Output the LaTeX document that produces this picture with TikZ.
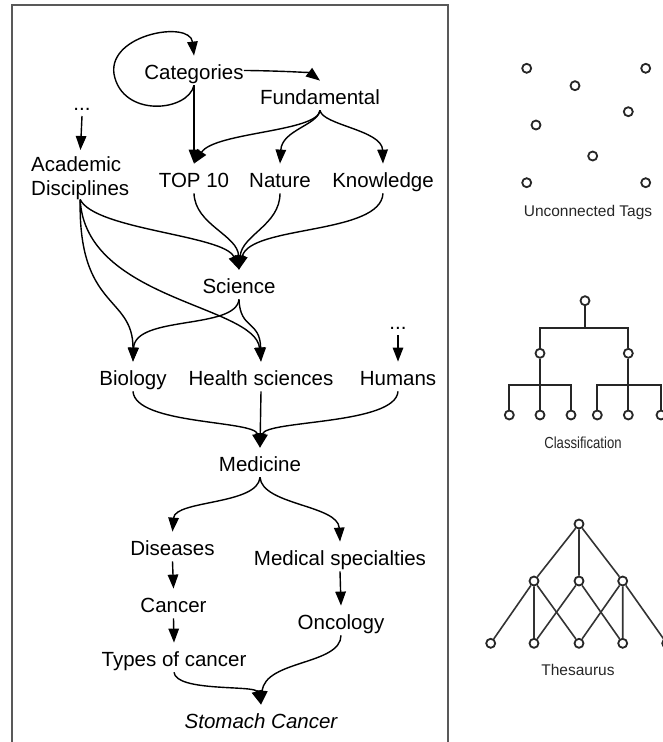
\documentclass[tikz,border=0pt]{standalone}
\usepackage{fontspec}
\setmainfont{Liberation Sans}
\usetikzlibrary{arrows.meta}
\begin{document}
\begin{tikzpicture}[x=1pt,y=-1pt,
  lbl/.style={font=\fontsize{20.5}{24}\selectfont, inner xsep=0pt, inner ysep=1.5pt, text height=22pt, text depth=4.3pt, anchor=base},
  conn/.style={line width=1.4pt, -{Triangle[length=14pt,width=10.5pt]}},
  tagnode/.style={circle, draw=black!85, line width=1.8pt, fill=white, minimum size=9pt, inner sep=0pt},
  cline/.style={line width=2.2pt, draw=black!85},
  tline/.style={line width=1.6pt, draw=black!80},
  taglabel/.style={font=\fontsize{15.5}{18}\selectfont, anchor=base, inner sep=0pt, text=black!85}]
\useasboundingbox (0,0) rectangle (663,742);
\clip (0,0) rectangle (663,742);
% frame
\draw[line width=1.6pt, black!65] (12,5) rectangle (448,760);
% main graph nodes
\node[lbl] (cat) at (194,79.3) {Categories};
\node[lbl] (fund) at (320,104.3) {Fundamental};
\node[lbl] (dotsA) at (82,110) {...};
\node[font=\fontsize{20.5}{24}\selectfont, align=left, inner sep=0pt, anchor=north west] (acad) at (31,156) {Academic\\Disciplines};
\node[lbl] (top) at (194,187.3) {TOP 10};
\node[lbl] (nat) at (280,187.3) {Nature};
\node[lbl] (know) at (383,187.3) {Knowledge};
\node[lbl] (sci) at (239,293.3) {Science};
\node[lbl] (bio) at (133,385.3) {Biology};
\node[lbl] (hs) at (261,385.3) {Health sciences};
\node[lbl] (hum) at (398,385.3) {Humans};
\node[lbl] (dotsB) at (398,329) {...};
\node[lbl] (med) at (260,471.3) {Medicine};
\node[lbl] (dis) at (172.5,555.3) {Diseases};
\node[lbl] (ms) at (340,565.3) {Medical specialties};
\node[lbl] (can) at (173.5,612.3) {Cancer};
\node[lbl] (onc) at (341,629.3) {Oncology};
\node[lbl] (typ) at (174,666.3) {Types of cancer};
\node[lbl, font=\fontsize{20.5}{24}\selectfont\itshape] (sto) at (261,728.3) {Stomach Cancer};
% main graph edges
\draw[conn] (cat.south) .. controls (188,112) and (122,118) .. (114,74) .. controls (108,34) and (190,20) .. (cat.north);
\draw[conn] (cat.east) .. controls (290,71) and (310,73) .. (fund.north);
\draw[conn] (cat.south) -- (top.north);
\draw[conn] (fund.south) .. controls (318,132) and (215,132) .. (top.north);
\draw[conn] (fund.south) .. controls (318,125) and (282,130) .. (nat.north);
\draw[conn] (fund.south) .. controls (322,125) and (382,130) .. (know.north);
\draw[conn, shorten >=6pt] (dotsA.south) -- (acad.north);
\draw[conn] (top.south) .. controls (195,225) and (238,235) .. (sci.north);
\draw[conn] (nat.south) .. controls (280,225) and (242,235) .. (sci.north);
\draw[conn] (know.south) .. controls (381,235) and (250,225) .. (sci.north);
\draw[conn] (acad.south) .. controls (95,230) and (225,235) .. (sci.north);
\draw[conn] (acad.south) .. controls (78,310) and (133,295) .. (bio.north);
\draw[conn] (acad.south) .. controls (85,300) and (255,305) .. (hs.north);
\draw[conn] (sci.south) .. controls (236,330) and (135,315) .. (bio.north);
\draw[conn] (sci.south) .. controls (240,330) and (260,320) .. (hs.north);
\draw[conn] (dotsB.south) -- (hum.north);
\draw[conn] (bio.south) .. controls (135,425) and (255,420) .. (med.north);
\draw[conn] (hs.south) -- (med.north);
\draw[conn] (hum.south) .. controls (396,425) and (265,420) .. (med.north);
\draw[conn] (med.south) .. controls (258,505) and (175,500) .. (dis.north);
\draw[conn] (med.south) .. controls (262,505) and (338,505) .. (ms.north);
\draw[conn] (dis.south) -- (can.north);
\draw[conn] (can.south) -- (typ.north);
\draw[conn] (ms.south) -- (onc.north);
\draw[conn] (typ.south) .. controls (176,692) and (255,685) .. (sto.north);
\draw[conn] (onc.south) .. controls (341,665) and (265,660) .. (sto.north);
% unconnected tags
\node[tagnode] (u1) at (526.7,68.3) {};
\node[tagnode] (u2) at (645.7,68.3) {};
\node[tagnode] (u3) at (575,85.7) {};
\node[tagnode] (u4) at (628.3,111.7) {};
\node[tagnode] (u5) at (536,125) {};
\node[tagnode] (u6) at (592.7,156) {};
\node[tagnode] (u7) at (526.7,182.7) {};
\node[tagnode] (u8) at (645.7,182.7) {};
\node[taglabel] (ulbl) at (588,216.7) {Unconnected Tags};
% classification
\node[tagnode] (c0) at (585,300.7) {};
\node[tagnode] (c1) at (540,353.3) {};
\node[tagnode] (c2) at (628.3,353.3) {};
\node[tagnode] (l1) at (509.3,415) {};
\node[tagnode] (l2) at (540,415) {};
\node[tagnode] (l3) at (571,415) {};
\node[tagnode] (l4) at (597.3,415) {};
\node[tagnode] (l5) at (628.3,415) {};
\node[tagnode] (l6) at (661,415) {};
\coordinate (cb) at (585,327.7);
\coordinate (lb1) at (540,385);
\coordinate (lb2) at (628.3,385);
\draw[cline] (c0.south) -- (cb);
\draw[cline] (c1.north) |- (cb) -| (c2.north);
\draw[cline] (c1.south) -- (l2.north);
\draw[cline] (c2.south) -- (l5.north);
\draw[cline] (l1.north) |- (lb1) -| (l3.north);
\draw[cline] (l4.north) |- (lb2) -| (l6.north);
\node[taglabel, font=\fontsize{16}{18}\selectfont] (clbl) at (583,448.3) {\scalebox{0.82}[1]{Classification}};
% thesaurus
\node[tagnode] (t0) at (579,524) {};
\node[tagnode] (t1) at (534,581) {};
\node[tagnode] (t2) at (579,581) {};
\node[tagnode] (t3) at (622.7,581) {};
\node[tagnode] (b1) at (490.7,643.3) {};
\node[tagnode] (b2) at (534,643.3) {};
\node[tagnode] (b3) at (579,643.3) {};
\node[tagnode] (b4) at (622.7,643.3) {};
\node[tagnode] (b5) at (666.7,643.3) {};
\draw[tline] (t0) -- (t1) (t0) -- (t2) (t0) -- (t3);
\draw[tline] (t1) -- (b1) (t1) -- (b2) (t1) -- (b3);
\draw[tline] (t2) -- (b2) (t2) -- (b4);
\draw[tline] (t3) -- (b3) (t3) -- (b4) (t3) -- (b5);
\node[taglabel] (tlbl) at (578,675) {Thesaurus};
\end{tikzpicture}
\end{document}
